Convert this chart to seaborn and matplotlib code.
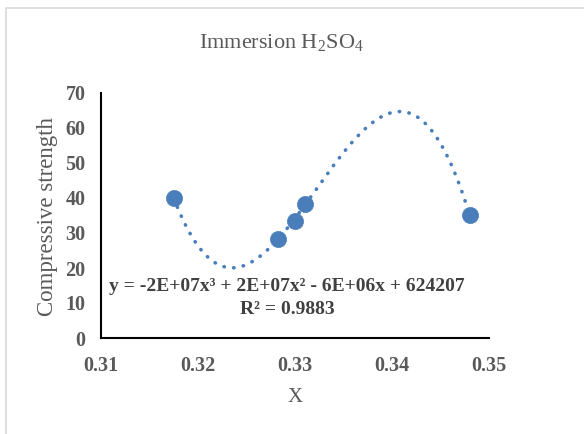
import numpy as np
import pandas as pd
import matplotlib
matplotlib.use("Agg")
import matplotlib.pyplot as plt
import seaborn as sns
from matplotlib.patches import Rectangle

# Data
x_vals = [0.3175, 0.3282, 0.3300, 0.3310, 0.3480]
y_vals = [40.0, 28.4, 33.4, 38.4, 35.1]
x_ticks = [0.31, 0.32, 0.33, 0.34, 0.35]
y_ticks = [0, 10, 20, 30, 40, 50, 60, 70]
title_txt = r"Immersion H$_\mathregular{2}$SO$_\mathregular{4}$"
eq_line1 = "y = -2E+07x³ + 2E+07x² - 6E+06x + 624207"
eq_line2 = "R² = 0.9883"

sns.set_style("white")
plt.rcParams["font.family"] = ["Liberation Serif", "DejaVu Serif"]
plt.rcParams["mathtext.fontset"] = "custom"
plt.rcParams["mathtext.rm"] = "Liberation Serif"

df = pd.DataFrame({"x": x_vals, "y": y_vals})

# cubic trendline (least squares through the points)
coef = np.polyfit(df["x"], df["y"], 3)
xs = np.linspace(min(x_vals), max(x_vals), 300)
trend = pd.DataFrame({"x": xs, "y": np.polyval(coef, xs)})

fig = plt.figure(figsize=(5.84, 4.34), dpi=100)
ax = fig.add_axes([101/584, 1-338/434, (489-101)/584, (338-93)/434])

blue = "#4a7ebb"
sns.lineplot(data=trend, x="x", y="y", ax=ax, color=blue, linestyle=(0, (0.1, 2.6)),
             linewidth=2.6)
for l in ax.lines:
    l.set_dash_capstyle("round")
sns.scatterplot(data=df, x="x", y="y", ax=ax, color=blue, s=135, edgecolor=blue,
                linewidth=0.5, zorder=5)

ax.set_xlim(0.31, 0.35)
ax.set_ylim(0, 70)
ax.set_xticks(x_ticks)
ax.set_yticks(y_ticks)
ax.set_xticklabels([f"{v:.2f}" for v in x_ticks])
ax.set_yticklabels([str(v) for v in y_ticks])
for lab in ax.get_xticklabels() + ax.get_yticklabels():
    lab.set_fontweight("bold")
    lab.set_fontsize(14.5)
    lab.set_color("#595959")
ax.tick_params(axis="both", length=0)
ax.tick_params(axis="x", pad=13)
ax.tick_params(axis="y", pad=11)

for s in ["top", "right"]:
    ax.spines[s].set_visible(False)
for s in ["left", "bottom"]:
    ax.spines[s].set_color("black")
    ax.spines[s].set_linewidth(1.5)

ax.set_xlabel("")
ax.set_ylabel("")
fig.text(295/584, 1-397/434, "X", ha="center", va="center", fontsize=15, color="#595959")
fig.text(48/584, 1-216/434, "Compressive strength", ha="center", va="center",
         rotation=90, fontsize=16.5, color="#595959")
fig.text(281/584, 1-43/434, title_txt, ha="center", va="center", fontsize=16, color="#595959")

ax.text(0.3292, 14.6, eq_line1, ha="center", va="center", fontsize=14,
        fontweight="bold", color="#404040")
ax.text(0.3292, 8.1, eq_line2, ha="center", va="center", fontsize=14,
        fontweight="bold", color="#404040")

fig.patches.append(Rectangle((6/584, -0.1), 1.2, 1 - 8/434 + 0.1, transform=fig.transFigure,
                             fill=False, edgecolor="#d9d9d9", linewidth=1.2))

fig.savefig("out.png", dpi=100)
